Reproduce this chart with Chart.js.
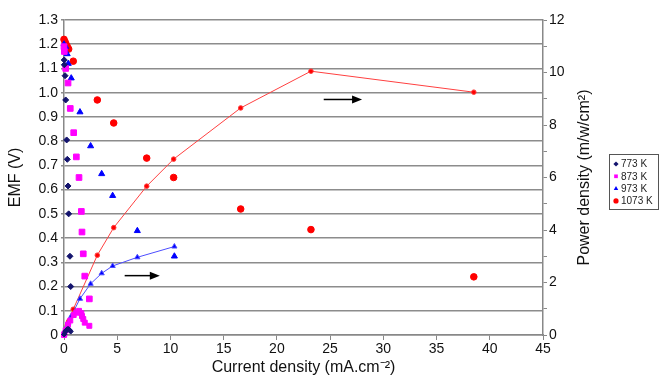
<!DOCTYPE html>
<html>
<head>
<meta charset="utf-8">
<script src="https://cdn.jsdelivr.net/npm/chart.js@4"></script>
<style>
    body { margin: 0; background: #fff; }
</style>
</head>
<body>
<canvas id="emfCanvas" width="660" height="380"></canvas>
<script>
// 773 K
const current773 = [0.02, 0.03, 0.1, 0.16, 0.25, 0.31, 0.38, 0.44, 0.56, 0.63];
const emf773 = [1.135, 1.115, 1.07, 0.97, 0.805, 0.725, 0.615, 0.5, 0.325, 0.2];
const power773 = [0.02, 0.03, 0.11, 0.16, 0.2, 0.22, 0.23, 0.22, 0.18, 0.13];

// 873 K
const current873 = [0, 0.03, 0.16, 0.38, 0.59, 0.91, 1.16, 1.41, 1.63, 1.69, 1.81, 1.95, 2.38];
const emf873 = [1.19, 1.17, 1.1, 1.04, 0.935, 0.835, 0.735, 0.65, 0.51, 0.425, 0.335, 0.243, 0.149];
const power873 = [0, 0.035, 0.18, 0.4, 0.55, 0.76, 0.85, 0.92, 0.83, 0.72, 0.61, 0.47, 0.35];

// 973 K
const current973 = [0, 0.15, 0.3, 0.4, 0.68, 1.5, 2.5, 3.54, 4.57, 6.89, 10.37];
const emf973 = [1.2, 1.19, 1.16, 1.12, 1.06, 0.92, 0.78, 0.665, 0.575, 0.43, 0.325];
const power973 = [0, 0.18, 0.35, 0.45, 0.72, 1.38, 1.95, 2.35, 2.63, 2.96, 3.37];

// 1073 K
const current1073 = [0, 0.1, 0.19, 0.31, 0.44, 0.87, 3.13, 4.67, 7.77, 10.3, 16.6, 23.2, 38.5];
const emf1073 = [1.22, 1.21, 1.2, 1.19, 1.18, 1.13, 0.97, 0.875, 0.73, 0.65, 0.52, 0.435, 0.24];
const power1073 = [0, 0.12, 0.23, 0.37, 0.52, 0.98, 3.04, 4.09, 5.67, 6.7, 8.65, 10.05, 9.25];

const legendLabels = ['773 K', '873 K', '973 K', '1073 K'];

// Axes
const xTicks = { min: 0, max: 45, step: 5 };
const emfTicks = { min: 0, max: 1.3, step: 0.1 };
const powerTicks = { min: 0, max: 12, step: 1 };

// Arrows (start x, end x, EMF level)
const arrowStartX = [5.7, 24.4];
const arrowEndX = [9.0, 28.0];
const arrowLevel = [0.245, 0.972];

const fontFamily = '"Liberation Sans", Arial, sans-serif';

function points(xs, ys) {
    return xs.map((x, i) => ({ x: x, y: ys[i] }));
}

const legendBox = {
    id: 'legendBox',
    afterDraw(chart) {
        const ctx = chart.ctx;
        const left = 609, top = 154, width = 49, height = 55;
        ctx.save();
        ctx.strokeStyle = '#555';
        ctx.lineWidth = 1;
        ctx.strokeRect(left + 0.5, top + 0.5, width, height);
        ctx.font = '10px ' + fontFamily;
        ctx.textBaseline = 'middle';
        ctx.fillStyle = '#222';
        for (let i = 0; i < 4; i++) {
            const ds = chart.data.datasets[i];
            const y = top + 10 + i * 12.3;
            ctx.fillStyle = ds.backgroundColor;
            ctx.strokeStyle = ds.backgroundColor;
            Chart.helpers.drawPoint(ctx, { pointStyle: ds.pointStyle, radius: 2.6, rotation: 0, borderWidth: 0 }, left + 7, y);
            ctx.fillStyle = '#222';
            ctx.fillText(legendLabels[i], left + 12, y + 0.5);
        }
        ctx.restore();
    }
};

const arrowsAndTitle = {
    id: 'arrowsAndTitle',
    afterDraw(chart) {
        const ctx = chart.ctx;
        const xs = chart.scales.x;
        const ys = chart.scales.y;
        ctx.save();
        ctx.strokeStyle = '#000';
        ctx.fillStyle = '#000';
        ctx.lineWidth = 1.5;
        for (let i = 0; i < arrowLevel.length; i++) {
            const x0 = xs.getPixelForValue(arrowStartX[i]);
            const x1 = xs.getPixelForValue(arrowEndX[i]);
            const y = ys.getPixelForValue(arrowLevel[i]);
            ctx.beginPath();
            ctx.moveTo(x0, y);
            ctx.lineTo(x1 - 8, y);
            ctx.stroke();
            ctx.beginPath();
            ctx.moveTo(x1, y);
            ctx.lineTo(x1 - 10, y - 4);
            ctx.lineTo(x1 - 10, y + 4);
            ctx.closePath();
            ctx.fill();
        }

        // right title, reading bottom to top
        const area = chart.chartArea;
        ctx.translate(585, (area.top + area.bottom) / 2);
        ctx.rotate(-Math.PI / 2);
        ctx.font = '16px ' + fontFamily;
        ctx.textAlign = 'center';
        ctx.textBaseline = 'middle';
        ctx.fillStyle = '#111';
        ctx.fillText('Power density (m/w/cm\u00B2)', 0, 0);
        ctx.restore();
    }
};

const emfContext = document.getElementById('emfCanvas').getContext('2d');

new Chart(emfContext, {
    type: 'scatter',
    data: {
        datasets: [
            {
                label: '773 K',
                data: points(current773, emf773),
                pointStyle: 'rectRot',
                pointRadius: 3,
                backgroundColor: '#14146e',
                borderColor: '#14146e',
                showLine: false,
                yAxisID: 'y',
                clip: false
            },
            {
                label: '873 K',
                data: points(current873, emf873),
                pointStyle: 'rect',
                pointRadius: 4,
                backgroundColor: '#ff00ff',
                borderColor: '#ff00ff',
                showLine: false,
                yAxisID: 'y',
                clip: false
            },
            {
                label: '973 K',
                data: points(current973, emf973),
                pointStyle: 'triangle',
                pointRadius: 3.5,
                backgroundColor: '#0000ff',
                borderColor: '#0000ff',
                showLine: false,
                yAxisID: 'y',
                clip: false
            },
            {
                label: '1073 K',
                data: points(current1073, emf1073),
                pointStyle: 'circle',
                pointRadius: 3.3,
                backgroundColor: '#ff0000',
                borderColor: '#ff0000',
                showLine: false,
                yAxisID: 'y',
                clip: false
            },
            {
                label: '773 K power',
                data: points(current773, power773),
                pointStyle: 'rectRot',
                pointRadius: 2.5,
                backgroundColor: '#14146e',
                borderColor: '#14146e',
                borderWidth: 1,
                showLine: true,
                yAxisID: 'y2',
                clip: false
            },
            {
                label: '873 K power',
                data: points(current873, power873),
                pointStyle: 'rect',
                pointRadius: 3.5,
                backgroundColor: '#ff00ff',
                borderColor: '#ff00ff',
                borderWidth: 1,
                showLine: true,
                yAxisID: 'y2',
                clip: false
            },
            {
                label: '973 K power',
                data: points(current973, power973),
                pointStyle: 'triangle',
                pointRadius: 3,
                backgroundColor: '#0000ff',
                borderColor: '#4d4dff',
                borderWidth: 1,
                showLine: true,
                yAxisID: 'y2',
                clip: false
            },
            {
                label: '1073 K power',
                data: points(current1073, power1073),
                pointStyle: 'circle',
                pointRadius: 2.3,
                backgroundColor: '#ff0000',
                borderColor: '#ff4040',
                borderWidth: 1,
                showLine: true,
                yAxisID: 'y2',
                clip: false
            }
        ]
    },
    options: {
        responsive: false,
        animation: false,
        layout: {
            padding: { top: 20, right: 57, bottom: 0, left: 0 }
        },
        plugins: {
            legend: { display: false },
            tooltip: { enabled: false }
        },
        scales: {
            x: {
                type: 'linear',
                min: xTicks.min,
                max: xTicks.max,
                afterFit: (scale) => { scale.height = 45; },
                ticks: {
                    stepSize: xTicks.step,
                    color: '#111',
                    font: { family: fontFamily, size: 14 },
                    padding: 1
                },
                grid: {
                    drawOnChartArea: false,
                    tickLength: 5,
                    color: '#888'
                },
                border: { color: '#888', width: 1.5 },
                title: {
                    display: true,
                    text: 'Current density (mA.cm\u207B\u00B2)',
                    color: '#111',
                    font: { family: fontFamily, size: 16 },
                    padding: { top: 0, bottom: 3 }
                }
            },
            y: {
                type: 'linear',
                position: 'left',
                min: emfTicks.min,
                max: emfTicks.max,
                afterFit: (scale) => { scale.width = 64; },
                ticks: {
                    stepSize: emfTicks.step,
                    color: '#111',
                    font: { family: fontFamily, size: 14 },
                    padding: 3
                },
                grid: {
                    color: '#8c8c8c',
                    lineWidth: 1.5,
                    tickLength: 3
                },
                border: { color: '#888', width: 1.5 },
                title: {
                    display: true,
                    text: 'EMF (V)',
                    color: '#111',
                    font: { family: fontFamily, size: 16 },
                    padding: { top: 6, bottom: 0 }
                }
            },
            y2: {
                type: 'linear',
                position: 'right',
                min: powerTicks.min,
                max: powerTicks.max,
                afterFit: (scale) => { scale.width = 60; },
                ticks: {
                    stepSize: powerTicks.step,
                    autoSkip: false,
                    color: '#111',
                    font: { family: fontFamily, size: 14 },
                    padding: 2,
                    callback: (value) => (value % 2 === 0 ? value : '')
                },
                grid: {
                    drawOnChartArea: false,
                    tickLength: 4,
                    color: '#888'
                },
                border: { color: '#888', width: 1.5 }
            }
        }
    },
    plugins: [legendBox, arrowsAndTitle]
});
</script>
</body>
</html>
